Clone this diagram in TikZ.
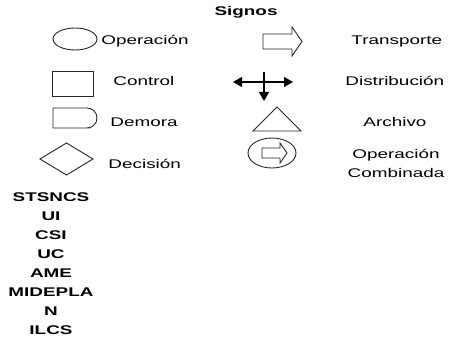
\documentclass[tikz,border=0pt]{standalone}
\usepackage{fontspec}
\setmainfont{Liberation Sans}[FakeStretch=1.5]
\usetikzlibrary{arrows.meta}

\begin{document}
\begin{tikzpicture}[x=1pt, y=-1pt, line width=0.9pt, >={Triangle[length=9pt, width=10pt]},
  lbl/.style={font=\fontsize{12.6}{19}\selectfont, inner sep=0pt},
  head/.style={font=\fontsize{12.6}{19}\selectfont\bfseries, inner sep=0pt},
  sym/.style={draw=black!85}]

\useasboundingbox (0,0) rectangle (452,339);

\node[head] (signos) at (246,12) {Signos};

% ---- left column ------------------------------------------------------------------
\draw[sym] (75,39) ellipse [x radius=22, y radius=11];
\node[lbl, anchor=base west] (operacion) at (101,45) {Operación};

\draw[sym] (52,71) rectangle (93,96);
\node[lbl, anchor=base west] (control) at (113,86) {Control};

\draw[sym] (53,108) -- (80,108) [rounded corners=10pt] -- (97,108) -- (97,128) -- (80,128)
  [sharp corners] -- (53,128) -- cycle;
\node[lbl, anchor=base west] (demora) at (110,127) {Demora};

\draw[sym] (40,159) -- (66.5,143) -- (93,159) -- (66.5,175) -- cycle;
\node[lbl, anchor=base west] (decision) at (108,168) {Decisión};

% ---- right column -----------------------------------------------------------------
\draw[sym] (263,34) -- (292,34) -- (292,27) -- (302,41.5) -- (292,56) -- (292,49)
  -- (263,49) -- cycle;
\node[lbl, anchor=base west] (transporte) at (351,45) {Transporte};

\coordinate (dl) at (233,82);
\coordinate (dr) at (293,82);
\coordinate (dt) at (264,72);
\coordinate (db) at (264,101);
\draw[<->, line width=1.3pt] (dl) -- (dr);
\draw[->, line width=1.3pt] (dt) -- (db);
\node[lbl, anchor=base west] (distribucion) at (345,86) {Distribución};

\draw[sym] (253,131) -- (277,107) -- (301,131) -- cycle;
\node[lbl, anchor=base west] (archivo) at (363,127) {Archivo};

\draw[sym] (272,153) ellipse [x radius=24, y radius=15];
\draw[sym] (262,148) -- (280,148) -- (280,143) -- (287,153) -- (280,163) -- (280,158)
  -- (262,158) -- cycle;
\node[lbl, align=center, anchor=base] (combinada) at (396,177.5) {Operación\\Combinada};

% ---- bottom list ------------------------------------------------------------------
\node[head, align=center, anchor=north] (lista) at (51,192)
  {STSNCS\\UI\\CSI\\UC\\AME\\MIDEPLA\\N\\ILCS};

\end{tikzpicture}
\end{document}
